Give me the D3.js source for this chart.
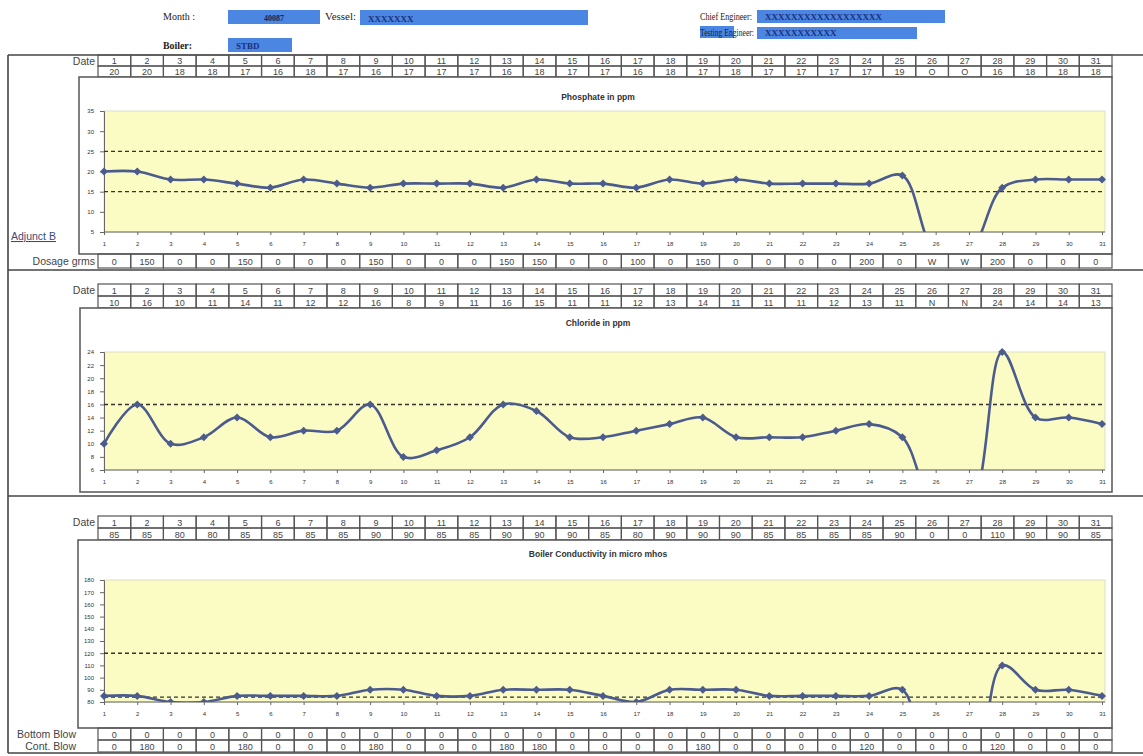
<!DOCTYPE html>
<html lang="en">
<head>
<meta charset="UTF-8">
<script src="https://d3js.org/d3.v7.min.js"></script>
<style>
  body { margin: 0; background: #fff; }
  svg text { font-family: "Liberation Sans", Arial, sans-serif; }
  .hdr { font-family: "Liberation Serif", "Times New Roman", serif !important; font-size: 10px; fill: #222; }
  .cell rect { fill: none; stroke: #555; stroke-width: 1.2; }
  .cell text { font-size: 9px; fill: #444; text-anchor: middle; }
  .rowlabel { font-size: 10.5px; fill: #444; text-anchor: end; }
  .frame { fill: #fff; stroke: #555; stroke-width: 1.5; }
  .axis text { font-size: 6px; fill: #333; }
  .axis path, .axis line { stroke: #666; }
  .title { font-size: 8.5px; font-weight: bold; fill: #333; text-anchor: middle; }
  .limit { stroke: #333; stroke-width: 1.4; stroke-dasharray: 4 3; }
  .series { fill: none; stroke: #4b5b8d; stroke-width: 2.6; }
  .marker { fill: #4b5b8d; }
  .rule { stroke: #444; stroke-width: 1.6; }
</style>
</head>
<body>
<svg class="sheet" width="1143" height="756"></svg>
<script>

// ---- data ----
const days = [1,2,3,4,5,6,7,8,9,10,11,12,13,14,15,16,17,18,19,20,21,22,23,24,25,26,27,28,29,30,31];

const phosphateRow = ["20","20","18","18","17","16","18","17","16","17","17","17","16","18","17","17","16","18","17","18","17","17","17","17","19","O","O","16","18","18","18"];
const phosphate    = [20,20,18,18,17,16,18,17,16,17,17,17,16,18,17,17,16,18,17,18,17,17,17,17,19,0,0,16,18,18,18];
const dosage       = ["0","150","0","0","150","0","0","0","150","0","0","0","150","150","0","0","100","0","150","0","0","0","0","200","0","W","W","200","0","0","0"];

const chlorideRow = ["10","16","10","11","14","11","12","12","16","8","9","11","16","15","11","11","12","13","14","11","11","11","12","13","11","N","N","24","14","14","13"];
const chloride    = [10,16,10,11,14,11,12,12,16,8,9,11,16,15,11,11,12,13,14,11,11,11,12,13,11,0,0,24,14,14,13];

const conductivityRow = ["85","85","80","80","85","85","85","85","90","90","85","85","90","90","90","85","80","90","90","90","85","85","85","85","90","0","0","110","90","90","85"];
const conductivity    = [85,85,80,80,85,85,85,85,90,90,85,85,90,90,90,85,80,90,90,90,85,85,85,85,90,0,0,110,90,90,85];

const bottomBlow = ["0","0","0","0","0","0","0","0","0","0","0","0","0","0","0","0","0","0","0","0","0","0","0","0","0","0","0","0","0","0","0"];
const contBlow   = ["0","180","0","0","180","0","0","0","180","0","0","0","180","180","0","0","0","0","180","0","0","0","0","120","0","0","0","120","0","0","0"];

const phosphateTicks    = [5,10,15,20,25,30,35];
const chlorideTicks     = [6,8,10,12,14,16,18,20,22,24];
const conductivityTicks = [80,90,100,110,120,130,140,150,160,170,180];

const phosphateLimits    = [25, 15];
const chlorideLimits     = [16];
const conductivityLimits = [120, 84];

// ---- layout ----
let svg = d3.select(".sheet");

let col = d3.scaleBand().domain(days).range([98, 1112]);
let x = d3.scalePoint().domain(days).range([104, 1102]);
const plotRight = 1105;

// header
function blueBox(x0, y0, w, h, label) {
  svg.append("rect").attr("x", x0).attr("y", y0).attr("width", w).attr("height", h)
      .attr("fill", "#4a86e2");
  if (label) svg.append("text").attr("class", "hdr")
      .attr("x", x0 + 8).attr("y", y0 + h - 3)
      .style("font-weight", "bold").style("fill", "#1f2f7a").style("font-size", "9px")
      .text(label);
}
blueBox(228, 10, 92, 14, "");
svg.append("text").attr("class", "hdr").attr("x", 274).attr("y", 21)
    .style("font-weight", "bold").style("fill", "#1a2260").style("font-size", "8px")
    .attr("text-anchor", "middle").text("40087");
blueBox(360, 10, 228, 15, "XXXXXXX");
blueBox(757, 10, 188, 13, "XXXXXXXXXXXXXXXXXX");
blueBox(700, 26, 34, 12, "");
blueBox(757, 27, 160, 12, "XXXXXXXXXXX");
blueBox(228, 38, 64, 14, "STBD");

function hdrText(x0, y0, s, len) {
  return svg.append("text").attr("class", "hdr").attr("x", x0).attr("y", y0)
      .attr("textLength", len).attr("lengthAdjust", "spacingAndGlyphs").text(s);
}
hdrText(163, 20, "Month :", 32);
hdrText(325, 20, "Vessel:", 31);
hdrText(700, 20, "Chief Engineer:", 52);
hdrText(700, 36, "Testing Engineer:", 54);
hdrText(163, 49, "Boiler:", 29).style("font-weight", "bold");

// outer rules
svg.append("line").attr("class", "rule").attr("x1", 8).attr("x2", 1143).attr("y1", 55).attr("y2", 55);
svg.append("line").attr("class", "rule").attr("x1", 8).attr("x2", 8).attr("y1", 55).attr("y2", 753);
svg.append("line").attr("class", "rule").attr("x1", 8).attr("x2", 1143).attr("y1", 270).attr("y2", 270);
svg.append("line").attr("class", "rule").attr("x1", 8).attr("x2", 1143).attr("y1", 496).attr("y2", 496);
svg.append("line").attr("class", "rule").attr("x1", 8).attr("x2", 1143).attr("y1", 753).attr("y2", 753);

// one row of 31 cells
function tableRow(values, y0, h, label, labelX) {
  let g = svg.append("g");
  let cell = g.selectAll(".cell")
    .data(values)
    .join("g")
      .attr("class", "cell")
      .attr("transform", (d, i) => `translate(${col(days[i])},${y0})`);
  cell.append("rect").attr("width", col.bandwidth()).attr("height", h);
  cell.append("text").attr("x", col.bandwidth() / 2).attr("y", h / 2 + 3.5).text(d => d);
  if (label) g.append("text").attr("class", "rowlabel")
      .attr("x", labelX || 95).attr("y", y0 + h / 2 + 4).text(label);
}

// a chart panel
function panel(opt) {
  svg.append("rect").attr("class", "frame")
      .attr("x", opt.frame[0]).attr("y", opt.frame[1])
      .attr("width", 1112 - opt.frame[0]).attr("height", opt.frame[2] - opt.frame[1]);

  let y = d3.scaleLinear().domain(opt.domain).range(opt.range);
  let g = svg.append("g");

  g.append("rect")
      .attr("x", x(1)).attr("y", y(opt.domain[1]))
      .attr("width", plotRight - x(1)).attr("height", y(opt.domain[0]) - y(opt.domain[1]))
      .attr("fill", "#fbfbc4").attr("stroke", "#d8d8c0").attr("stroke-width", 0.8);

  g.append("text").attr("class", "title").attr("x", 598).attr("y", opt.titleY).text(opt.title);

  g.append("g").attr("class", "axis")
      .attr("transform", `translate(${x(1)},0)`)
      .call(d3.axisLeft(y).tickValues(opt.ticks).tickSize(4).tickPadding(6));

  g.append("g").attr("class", "axis")
      .attr("transform", `translate(0,${y(opt.domain[0])})`)
      .call(d3.axisBottom(x).tickSize(3).tickPadding(7))
      .call(a => a.select(".domain").attr("d", `M${x(1)},0H${plotRight}`));

  g.selectAll(".limit")
    .data(opt.limits)
    .join("line")
      .attr("class", "limit")
      .attr("x1", x(1)).attr("x2", x(31))
      .attr("y1", d => y(d)).attr("y2", d => y(d));

  let clipId = "clip" + opt.id;
  g.append("clipPath").attr("id", clipId)
    .append("rect")
      .attr("x", x(1) - 8).attr("y", y(opt.domain[1]) - 8)
      .attr("width", plotRight - x(1) + 16).attr("height", y(opt.domain[0]) - y(opt.domain[1]) + 8);

  let pts = days.map((d, i) => [x(d), y(opt.values[i])]);
  let plot = g.append("g").attr("clip-path", `url(#${clipId})`);
  plot.append("path").attr("class", "series")
      .attr("d", d3.line().curve(d3.curveCatmullRom.alpha(0.5))(pts));
  plot.selectAll(".marker")
    .data(pts)
    .join("path")
      .attr("class", "marker")
      .attr("transform", d => `translate(${d[0]},${d[1]})`)
      .attr("d", "M0,-4L4,0L0,4L-4,0Z");
}

// section 1 : phosphate
tableRow(days, 55, 11, "Date");
tableRow(phosphateRow, 66, 11);
panel({id: 1, frame: [79, 77, 254], domain: [5, 35], range: [232, 111], ticks: phosphateTicks,
       limits: phosphateLimits, values: phosphate, title: "Phosphate in ppm", titleY: 100});
tableRow(dosage, 254, 14, "Dosage grms");
svg.append("text").attr("x", 11).attr("y", 240)
    .style("font-size", "10.5px").style("fill", "#3b4a7a").style("text-decoration", "underline")
    .text("Adjunct B");

// section 2 : chloride
tableRow(days, 284, 12, "Date");
tableRow(chlorideRow, 296, 12);
panel({id: 2, frame: [80, 308, 492], domain: [6, 24], range: [470, 352], ticks: chlorideTicks,
       limits: chlorideLimits, values: chloride, title: "Chloride in ppm", titleY: 326});

// section 3 : conductivity
tableRow(days, 516, 12, "Date");
tableRow(conductivityRow, 528, 12);
panel({id: 3, frame: [78, 540, 728], domain: [80, 180], range: [702, 580], ticks: conductivityTicks,
       limits: conductivityLimits, values: conductivity, title: "Boiler Conductivity in micro mhos", titleY: 557});

tableRow(bottomBlow, 728, 12, "Bottom Blow", 76);
tableRow(contBlow, 740, 12, "Cont. Blow", 76);

</script>
</body>
</html>
